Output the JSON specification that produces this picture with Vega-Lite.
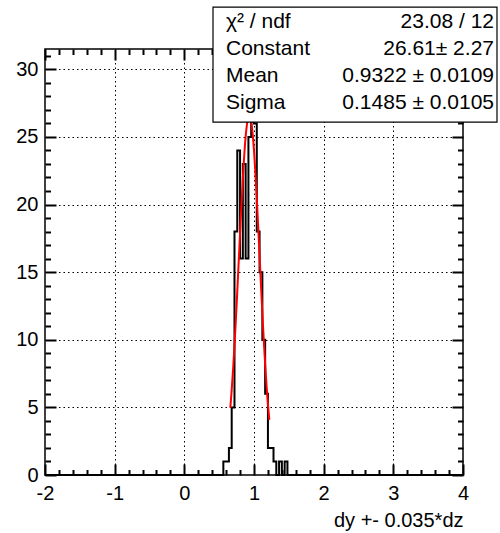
{
  "$schema": "https://vega.github.io/schema/vega-lite/v6.json",
  "width": 418,
  "height": 426,
  "autosize": {"type": "none"},
  "padding": {"left": 45, "top": 49, "right": 37, "bottom": 58},
  "background": "white",
  "config": {
    "view": {"stroke": "black", "strokeWidth": 1.5},
    "font": "Liberation Sans",
    "axis": {"labelFont": "Liberation Sans", "titleFont": "Liberation Sans"}
  },
  "datasets": {
    "hist": [
      {"x": -2, "n": 0},
      {"x": 0.56, "n": 1},
      {"x": 0.60, "n": 1},
      {"x": 0.64, "n": 2},
      {"x": 0.68, "n": 5},
      {"x": 0.72, "n": 18},
      {"x": 0.76, "n": 24},
      {"x": 0.80, "n": 16},
      {"x": 0.84, "n": 23},
      {"x": 0.88, "n": 16},
      {"x": 0.92, "n": 25},
      {"x": 0.96, "n": 30},
      {"x": 1.00, "n": 26},
      {"x": 1.04, "n": 18},
      {"x": 1.08, "n": 15},
      {"x": 1.12, "n": 10},
      {"x": 1.16, "n": 6},
      {"x": 1.20, "n": 2},
      {"x": 1.24, "n": 2},
      {"x": 1.28, "n": 1},
      {"x": 1.32, "n": 0},
      {"x": 1.36, "n": 1},
      {"x": 1.40, "n": 0},
      {"x": 1.44, "n": 1},
      {"x": 1.48, "n": 0},
      {"x": 4, "n": 0}
    ],
    "fit": [
      {"x": 0.66, "f": 4.96}, {"x": 0.68, "f": 6.29}, {"x": 0.70, "f": 7.84}, {"x": 0.72, "f": 9.59},
      {"x": 0.74, "f": 11.51}, {"x": 0.76, "f": 13.58}, {"x": 0.78, "f": 15.74}, {"x": 0.80, "f": 17.90},
      {"x": 0.82, "f": 20.00}, {"x": 0.84, "f": 21.94}, {"x": 0.86, "f": 23.64}, {"x": 0.88, "f": 25.02},
      {"x": 0.90, "f": 25.99}, {"x": 0.92, "f": 26.52}, {"x": 0.9322, "f": 26.61}, {"x": 0.94, "f": 26.57},
      {"x": 0.96, "f": 26.15}, {"x": 0.98, "f": 25.27}, {"x": 1.00, "f": 23.98}, {"x": 1.02, "f": 22.34},
      {"x": 1.04, "f": 20.44}, {"x": 1.06, "f": 18.37}, {"x": 1.08, "f": 16.22}, {"x": 1.10, "f": 14.05},
      {"x": 1.12, "f": 11.96}, {"x": 1.14, "f": 9.99}, {"x": 1.16, "f": 8.20}, {"x": 1.18, "f": 6.61},
      {"x": 1.20, "f": 5.23}, {"x": 1.22, "f": 4.07}
    ],
    "stats": [
      {"names": ["χ² / ndf", "Constant", "Mean", "Sigma"],
       "vals": ["23.08 / 12", "26.61± 2.27", "0.9322 ± 0.0109", "0.1485 ± 0.0105"]}
    ]
  },
  "layer": [
    {
      "data": {"name": "hist"},
      "mark": {"type": "line", "interpolate": "step-after", "color": "black", "strokeWidth": 2},
      "encoding": {
        "x": {
          "field": "x", "type": "quantitative",
          "scale": {"domain": [-2, 4], "nice": false, "zero": false},
          "axis": {
            "orient": "bottom",
            "values": [-2,-1.8,-1.6,-1.4,-1.2,-1,-0.8,-0.6,-0.4,-0.2,0,0.2,0.4,0.6,0.8,1,1.2,1.4,1.6,1.8,2,2.2,2.4,2.6,2.8,3,3.2,3.4,3.6,3.8,4],
            "labelExpr": "abs(datum.value - round(datum.value)) < 0.01 ? '' + round(datum.value) : ''",
            "domain": false,
            "grid": true, "gridColor": "black", "gridDash": [1.5, 3], "gridWidth": 1,
            "gridOpacity": {"condition": {"test": "abs(datum.value - round(datum.value)) < 0.01 && datum.value > -1.5 && datum.value < 3.5", "value": 1}, "value": 0},
            "ticks": true, "tickColor": "black", "tickWidth": 2,
            "tickSize": {"condition": {"test": "abs(datum.value - round(datum.value)) < 0.01", "value": -11}, "value": -5.5},
            "labelFontSize": 20, "labelColor": "black", "labelPadding": 19,
            "labelFlush": false, "labelOverlap": false,
            "title": "dy +- 0.035*dz", "titleAnchor": "end", "titleFontSize": 20,
            "titleFontWeight": "normal", "titleColor": "black", "titlePadding": 2
          }
        },
        "y": {
          "field": "n", "type": "quantitative",
          "scale": {"domain": [0, 31.5], "nice": false, "zero": false},
          "axis": {
            "orient": "left",
            "values": [0,1,2,3,4,5,6,7,8,9,10,11,12,13,14,15,16,17,18,19,20,21,22,23,24,25,26,27,28,29,30,31],
            "labelExpr": "datum.value % 5 == 0 ? '' + datum.value : ''",
            "domain": false,
            "grid": true, "gridColor": "black", "gridDash": [1.5, 3], "gridWidth": 1,
            "gridOpacity": {"condition": {"test": "datum.value % 5 == 0 && datum.value > 0", "value": 1}, "value": 0},
            "ticks": true, "tickColor": "black", "tickWidth": 2,
            "tickSize": {"condition": {"test": "datum.value % 5 == 0", "value": -11}, "value": -5.5},
            "labelFontSize": 20, "labelColor": "black", "labelPadding": 18,
            "labelFlush": false, "labelOverlap": false,
            "title": null
          }
        }
      }
    },
    {
      "data": {"name": "fit"},
      "mark": {"type": "line", "interpolate": "monotone", "color": "#ff0000", "strokeWidth": 2},
      "encoding": {
        "x": {
          "field": "x", "type": "quantitative",
          "scale": {"domain": [-2, 4], "nice": false, "zero": false},
          "axis": {
            "orient": "top",
            "values": [-2,-1.8,-1.6,-1.4,-1.2,-1,-0.8,-0.6,-0.4,-0.2,0,0.2,0.4,0.6,0.8,1,1.2,1.4,1.6,1.8,2,2.2,2.4,2.6,2.8,3,3.2,3.4,3.6,3.8,4],
            "labels": false, "domain": false, "grid": false,
            "ticks": true, "tickColor": "black", "tickWidth": 2,
            "tickSize": {"condition": {"test": "abs(datum.value - round(datum.value)) < 0.01", "value": -11}, "value": -5.5},
            "title": null
          }
        },
        "y": {
          "field": "f", "type": "quantitative",
          "scale": {"domain": [0, 31.5], "nice": false, "zero": false},
          "axis": {
            "orient": "right",
            "values": [0,1,2,3,4,5,6,7,8,9,10,11,12,13,14,15,16,17,18,19,20,21,22,23,24,25,26,27,28,29,30,31],
            "labels": false, "domain": false, "grid": false,
            "ticks": true, "tickColor": "black", "tickWidth": 2,
            "tickSize": {"condition": {"test": "datum.value % 5 == 0", "value": -11}, "value": -5.5},
            "title": null
          }
        }
      }
    },
    {
      "data": {"name": "stats"},
      "layer": [
        {
          "mark": {"type": "rect", "fill": "white", "stroke": "black", "strokeWidth": 1.2},
          "encoding": {
            "x": {"datum": 0.4115, "type": "quantitative", "scale": {"domain": [-2, 4]}, "axis": null},
            "x2": {"datum": 4.488},
            "y": {"datum": 34.6, "type": "quantitative", "scale": {"domain": [0, 31.5]}, "axis": null},
            "y2": {"datum": 26.1}
          }
        },
        {
          "mark": {"type": "text", "align": "left", "baseline": "alphabetic", "fontSize": 21, "lineHeight": 27, "font": "Liberation Sans", "color": "black"},
          "encoding": {
            "x": {"datum": 0.598, "type": "quantitative", "scale": {"domain": [-2, 4]}, "axis": null},
            "y": {"datum": 33.05, "type": "quantitative", "scale": {"domain": [0, 31.5]}, "axis": null},
            "text": {"field": "names"}
          }
        },
        {
          "mark": {"type": "text", "align": "right", "baseline": "alphabetic", "fontSize": 21, "lineHeight": 27, "font": "Liberation Sans", "color": "black"},
          "encoding": {
            "x": {"datum": 4.445, "type": "quantitative", "scale": {"domain": [-2, 4]}, "axis": null},
            "y": {"datum": 33.05, "type": "quantitative", "scale": {"domain": [0, 31.5]}, "axis": null},
            "text": {"field": "vals"}
          }
        }
      ]
    }
  ],
  "resolve": {"axis": {"x": "independent", "y": "independent"}}
}
